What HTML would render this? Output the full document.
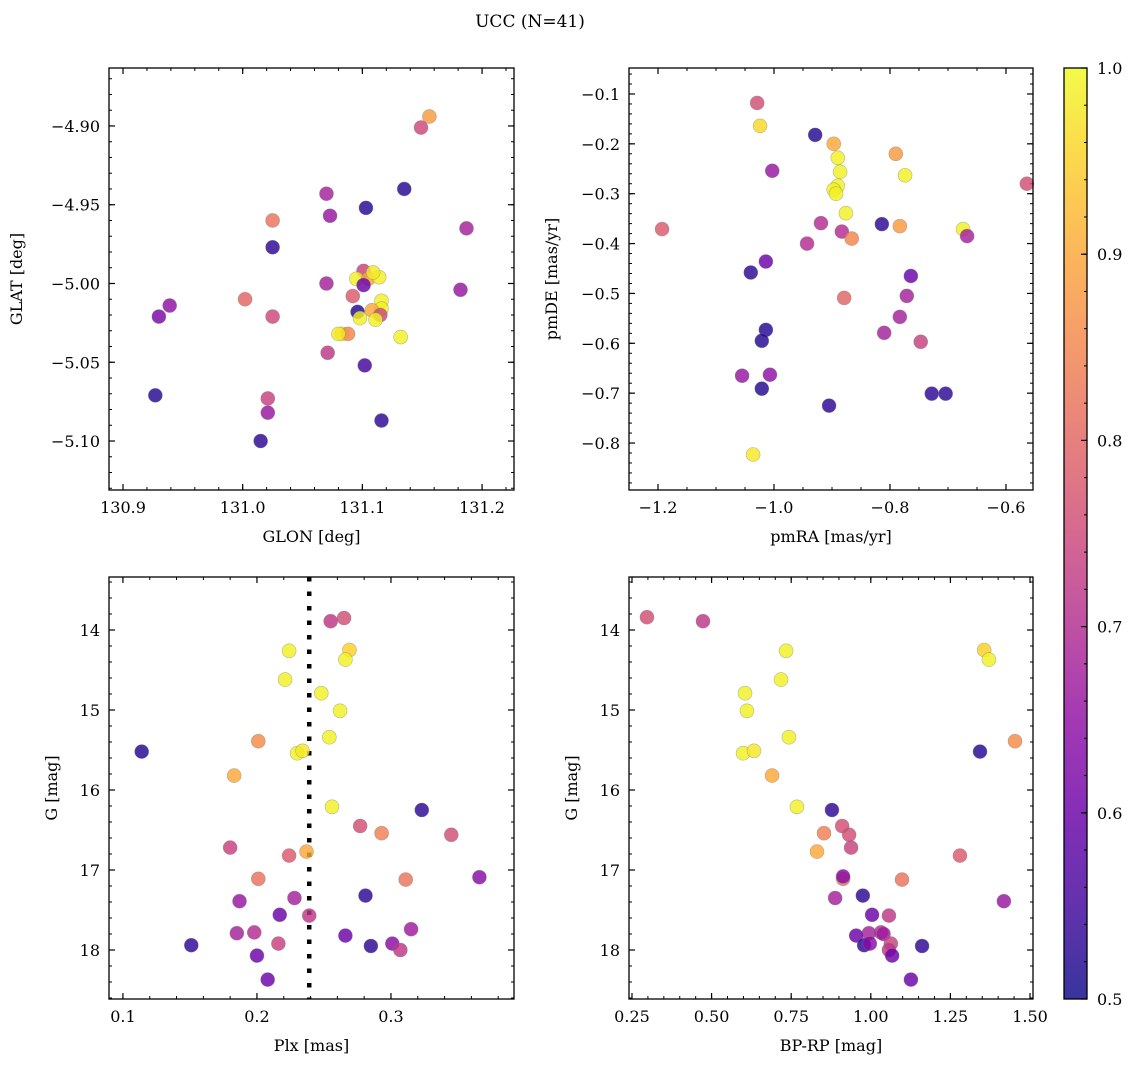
<!DOCTYPE html>
<html><head><meta charset="utf-8">
<style>
html,body{margin:0;padding:0;background:#fff;}
svg text{font-family:"DejaVu Serif","Liberation Serif",serif;fill:#000;}
</style></head>
<body>
<svg id="chart" width="1136" height="1067" viewBox="0 0 1136 1067" xmlns="http://www.w3.org/2000/svg">
<text x="530" y="27" text-anchor="middle" font-size="17">UCC (N=41)</text>
</svg>
<script>
// Panel 1: GLON vs GLAT
const glon = [131.156,131.149,131.135,131.070,131.103,131.073,131.025,131.187,131.025,131.101,131.095,131.105,131.114,131.109,131.101,131.070,131.182,131.092,131.002,131.116,131.116,130.939,131.108,131.115,131.096,131.111,131.098,130.930,131.025,131.083,131.088,131.080,131.132,131.071,131.102,130.927,131.021,131.021,131.116,131.015];
const glat = [-4.894,-4.901,-4.940,-4.943,-4.952,-4.957,-4.960,-4.965,-4.977,-4.992,-4.997,-4.997,-4.996,-4.993,-5.001,-5.000,-5.004,-5.008,-5.010,-5.011,-5.016,-5.014,-5.017,-5.020,-5.018,-5.023,-5.022,-5.021,-5.021,-5.032,-5.032,-5.032,-5.034,-5.044,-5.052,-5.071,-5.073,-5.082,-5.087,-5.100];
const prob1 = [0.88,0.75,0.52,0.68,0.52,0.66,0.82,0.68,0.53,0.74,0.99,0.90,0.99,0.98,0.60,0.68,0.66,0.78,0.80,0.99,0.99,0.65,0.90,0.75,0.52,0.99,0.99,0.62,0.75,0.99,0.85,0.98,0.99,0.72,0.55,0.52,0.74,0.66,0.53,0.53];
// Panel 2: pmRA vs pmDE
const pmra = [-1.029,-1.024,-0.929,-0.897,-0.890,-0.790,-0.886,-1.003,-0.774,-0.890,-0.897,-0.893,-0.564,-0.876,-0.919,-0.814,-1.193,-0.674,-0.783,-0.883,-0.866,-0.667,-0.943,-1.040,-1.014,-0.764,-0.771,-0.879,-1.014,-1.021,-0.810,-0.783,-0.747,-1.055,-1.021,-1.007,-0.728,-0.704,-0.905,-1.036];
const pmde = [-0.118,-0.164,-0.182,-0.200,-0.228,-0.220,-0.256,-0.254,-0.263,-0.284,-0.292,-0.300,-0.280,-0.339,-0.359,-0.361,-0.371,-0.371,-0.365,-0.376,-0.390,-0.385,-0.400,-0.458,-0.436,-0.465,-0.505,-0.509,-0.573,-0.595,-0.579,-0.547,-0.597,-0.665,-0.691,-0.663,-0.701,-0.701,-0.725,-0.823];
const prob2 = [0.76,0.96,0.52,0.90,0.99,0.88,0.99,0.66,0.99,0.99,0.99,0.99,0.76,0.99,0.70,0.53,0.78,0.99,0.88,0.70,0.85,0.68,0.70,0.53,0.60,0.60,0.68,0.80,0.52,0.52,0.68,0.68,0.74,0.66,0.52,0.65,0.53,0.53,0.53,0.98];
// Panel 3: Plx vs G
const plx = [0.265,0.255,0.224,0.269,0.266,0.221,0.248,0.262,0.201,0.254,0.114,0.230,0.234,0.183,0.256,0.323,0.277,0.293,0.345,0.180,0.224,0.237,0.201,0.311,0.366,0.281,0.187,0.228,0.217,0.239,0.185,0.198,0.315,0.266,0.151,0.216,0.285,0.301,0.307,0.200,0.208];
const gmag3 = [13.85,13.89,14.26,14.25,14.37,14.62,14.79,15.01,15.39,15.34,15.52,15.54,15.51,15.82,16.21,16.25,16.45,16.54,16.56,16.72,16.82,16.77,17.11,17.12,17.09,17.32,17.39,17.35,17.56,17.57,17.79,17.78,17.74,17.82,17.94,17.92,17.95,17.92,18.00,18.07,18.37];
const prob3 = [0.76,0.72,0.99,0.95,0.99,0.99,0.99,0.99,0.86,0.99,0.52,0.99,0.98,0.90,0.99,0.53,0.76,0.84,0.76,0.74,0.78,0.90,0.82,0.82,0.64,0.53,0.66,0.68,0.60,0.72,0.68,0.70,0.67,0.60,0.53,0.74,0.53,0.64,0.72,0.60,0.60];
const plxMedian = [0.239];
// Panel 4: BP-RP vs G
const bprp = [0.297,0.473,0.734,1.356,1.371,0.718,0.605,0.611,1.453,0.743,1.343,0.599,0.633,0.690,0.768,0.878,0.910,0.853,0.932,0.938,1.280,0.831,0.913,1.098,0.913,0.975,1.418,0.888,1.004,1.057,0.994,1.032,1.040,0.954,0.979,1.063,1.161,0.997,1.057,1.067,1.126];
const gmag4 = [13.84,13.89,14.26,14.25,14.37,14.62,14.79,15.01,15.39,15.34,15.52,15.54,15.51,15.82,16.21,16.25,16.45,16.54,16.56,16.72,16.82,16.77,17.11,17.12,17.08,17.32,17.39,17.35,17.56,17.57,17.79,17.78,17.80,17.82,17.94,17.92,17.95,17.92,18.00,18.07,18.37];
const prob4 = prob3.slice();
const cbarTicks = [0.5,0.6,0.7,0.8,0.9,1.0];

const NS = "http://www.w3.org/2000/svg";
const svg = document.getElementById('chart');
const plasma = [[13,8,135],[65,4,157],[106,0,168],[143,13,164],[177,42,144],[204,71,120],[225,100,98],[242,132,75],[252,166,54],[252,206,37],[240,249,33]];
function cmap(v){
  let t=(v-0.5)/0.5; t=Math.max(0,Math.min(1,t));
  const f=t*10, i=Math.min(9,Math.floor(f)), u=f-i;
  const a=plasma[i], b=plasma[i+1];
  return 'rgb('+a.map((c,k)=>Math.round(c+(b[k]-c)*u)).join(',')+')';
}
function mk(tag, attrs, parent){
  const e=document.createElementNS(NS,tag);
  for(const k in attrs) e.setAttribute(k,attrs[k]);
  (parent||svg).appendChild(e); return e;
}
const eps=1e-9;
function ticks(step,a,b){const min=Math.min(a,b),max=Math.max(a,b);const r=[];for(let k=Math.ceil(min/step-eps);k*step<=max+eps;k++)r.push(+(k*step).toFixed(6));return r;}
function panel(o){
  const g=mk('g',{});
  
  
  const sx=v=>o.x0+(v-o.xmin)/(o.xmax-o.xmin)*(o.x1-o.x0);
  const sy=v=>o.y1-(v-o.ymin)/(o.ymax-o.ymin)*(o.y1-o.y0);
  ticks(o.xminor,o.xmin,o.xmax).forEach(v=>{const x=sx(v);
    mk('line',{x1:x,x2:x,y1:o.y1,y2:o.y1-3,stroke:'#000','stroke-width':1},g);
    mk('line',{x1:x,x2:x,y1:o.y0,y2:o.y0+3,stroke:'#000','stroke-width':1},g);});
  ticks(o.yminor,o.ymin,o.ymax).forEach(v=>{const y=sy(v);
    mk('line',{x1:o.x0,x2:o.x0+3,y1:y,y2:y,stroke:'#000','stroke-width':1},g);
    mk('line',{x1:o.x1,x2:o.x1-3,y1:y,y2:y,stroke:'#000','stroke-width':1},g);});
  ticks(o.xmajor,o.xmin,o.xmax).forEach(v=>{const x=sx(v);
    mk('line',{x1:x,x2:x,y1:o.y1,y2:o.y1-6,stroke:'#000','stroke-width':1.2},g);
    mk('line',{x1:x,x2:x,y1:o.y0,y2:o.y0+6,stroke:'#000','stroke-width':1.2},g);
    const t=mk('text',{x:x,y:o.y1+23,'text-anchor':'middle','font-size':16},g);
    
    
    t.textContent=o.xfmt(v).replace('-','\u2212');});
  ticks(o.ymajor,o.ymin,o.ymax).forEach(v=>{const y=sy(v);
    mk('line',{x1:o.x0,x2:o.x0+6,y1:y,y2:y,stroke:'#000','stroke-width':1.2},g);
    mk('line',{x1:o.x1,x2:o.x1-6,y1:y,y2:y,stroke:'#000','stroke-width':1.2},g);
    const t=mk('text',{x:o.x0-9,y:y+6,'text-anchor':'end','font-size':16},g);
    
    
    t.textContent=o.yfmt(v).replace('-','\u2212');});
  const xl=mk('text',{x:(o.x0+o.x1)/2,y:o.y1+52,'text-anchor':'middle','font-size':16},g);
  
  
  xl.textContent=o.xlabel;
  const yx=o.ylx, yy=(o.y0+o.y1)/2;
  const yl=mk('text',{x:yx,y:yy,'text-anchor':'middle','font-size':16,transform:'rotate(-90 '+yx+' '+yy+')'},g);
  
  
  yl.textContent=o.ylabel;
  if(o.vline!==undefined){
    const ln=mk('line',{x1:sx(o.vline),x2:sx(o.vline),y1:o.y0,y2:o.y1,stroke:'#000','stroke-width':4.5,'stroke-dasharray':'4.5,10'},g);
    
    
  }
  for(let i=0;i<o.xs.length;i++){
    const c=mk('circle',{cx:sx(o.xs[i]),cy:sy(o.ys[i]),r:7,fill:cmap(o.cs[i]),'fill-opacity':0.82,stroke:'#777','stroke-opacity':0.5,'stroke-width':0.6},g);
    
    
  }
  mk('rect',{x:o.x0,y:o.y0,width:o.x1-o.x0,height:o.y1-o.y0,fill:'none',stroke:'#000','stroke-width':1.3},g);
}
const f2=v=>v.toFixed(2), f1=v=>v.toFixed(1), f0=v=>v.toFixed(0);
panel({name:'glon-glat-panel',x0:109,x1:514,y0:68,y1:490,xmin:130.8883,xmax:131.2267,ymin:-5.1311,ymax:-4.8632,
  xmajor:0.1,xminor:0.02,ymajor:0.05,yminor:0.01,xfmt:f1,yfmt:f2,xlabel:'GLON [deg]',ylabel:'GLAT [deg]',ylx:22,
  xs:glon,ys:glat,cs:prob1});
panel({name:'pm-panel',x0:629,x1:1033,y0:68,y1:490,xmin:-1.25,xmax:-0.5534,ymin:-0.8942,ymax:-0.0479,
  xmajor:0.2,xminor:0.05,ymajor:0.1,yminor:0.02,xfmt:f1,yfmt:f1,xlabel:'pmRA [mas/yr]',ylabel:'pmDE [mas/yr]',ylx:557,
  xs:pmra,ys:pmde,cs:prob2});
panel({name:'plx-g-panel',x0:109,x1:514,y0:577,y1:999,xmin:0.0896,xmax:0.3918,ymin:18.6125,ymax:13.3375,
  xmajor:0.1,xminor:0.02,ymajor:1,yminor:0.2,xfmt:f1,yfmt:f0,xlabel:'Plx [mas]',ylabel:'G [mag]',ylx:57,
  xs:plx,ys:gmag3,cs:prob3,vline:plxMedian[0]});
panel({name:'cmd-panel',x0:629,x1:1033,y0:577,y1:999,xmin:0.2406,xmax:1.5094,ymin:18.6125,ymax:13.3375,
  xmajor:0.25,xminor:0.05,ymajor:1,yminor:0.2,xfmt:f2,yfmt:f0,xlabel:'BP-RP [mag]',ylabel:'G [mag]',ylx:577,
  xs:bprp,ys:gmag4,cs:prob4});

// colorbar
(function(){
  const cx0=1064,cx1=1087,cy0=68,cy1=999;
  const cb=mk('g',{});
  
  
  const defs=mk('defs',{},cb);
  const lg=mk('linearGradient',{id:'cbg',x1:0,y1:1,x2:0,y2:0},defs);
  for(let k=0;k<=20;k++){mk('stop',{offset:k/20,'stop-color':cmap(0.5+k/40),'stop-opacity':0.82},lg);}
  mk('rect',{x:cx0,y:cy0,width:cx1-cx0,height:cy1-cy0,fill:'url(#cbg)'},cb);
  const sy=v=>cy1-(v-0.5)/0.5*(cy1-cy0);
  ticks(0.02,0.5,1.0).forEach(v=>{mk('line',{x1:cx1,x2:cx1-3,y1:sy(v),y2:sy(v),stroke:'#000','stroke-width':1},cb);});
  cbarTicks.forEach(v=>{const y=sy(v);
    mk('line',{x1:cx1,x2:cx1-6,y1:y,y2:y,stroke:'#000','stroke-width':1.2},cb);
    const t=mk('text',{x:cx1+10,y:y+6,'font-size':16},cb);
    
    
    t.textContent=v.toFixed(1);});
  mk('rect',{x:cx0,y:cy0,width:cx1-cx0,height:cy1-cy0,fill:'none',stroke:'#000','stroke-width':1.3},cb);
})();
</script>
</body></html>
